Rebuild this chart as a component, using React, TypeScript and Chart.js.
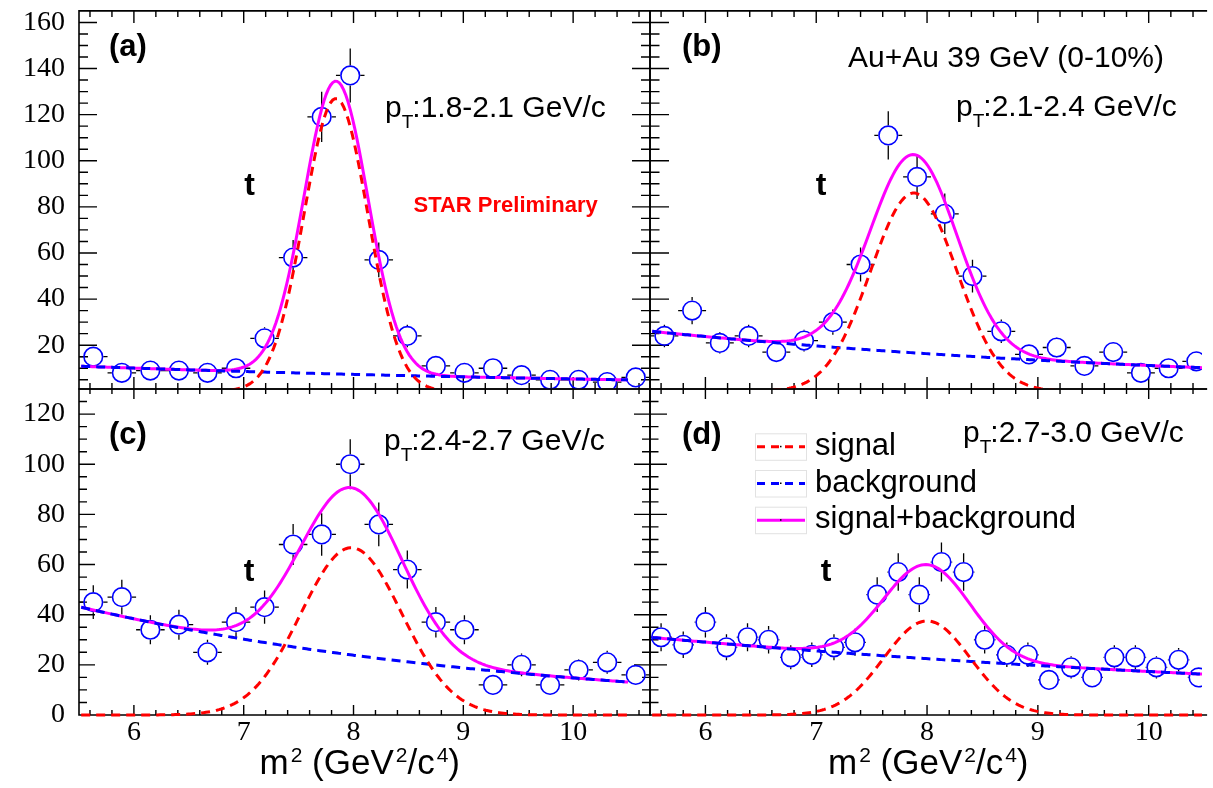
import React, { useEffect, useRef } from "react";
import { Chart, registerables } from "chart.js";

Chart.register(...registerables);

const PAGE_W = 1213;
const PAGE_H = 788;

// ---------------- data ----------------
// bin centres in m^2 (GeV^2/c^4), counts and statistical errors per panel
const m2BinsA = [5.63, 5.89, 6.15, 6.41, 6.67, 6.93, 7.19, 7.45, 7.71, 7.97, 8.23, 8.49, 8.75, 9.01, 9.27, 9.53, 9.79, 10.05, 10.31, 10.57];
const countsA = [15, 8, 9, 9, 8, 10, 23, 58, 119, 137, 57, 24, 11, 8, 10, 7, 5, 5, 4, 6];
const errorsA = [3.9, 2.8, 3.0, 3.0, 2.8, 3.2, 4.8, 7.6, 10.9, 11.7, 7.5, 4.9, 3.3, 2.8, 3.2, 2.6, 2.2, 2.2, 2.0, 2.4];

const m2BinsB = [5.63, 5.88, 6.13, 6.39, 6.64, 6.89, 7.15, 7.4, 7.65, 7.91, 8.16, 8.41, 8.67, 8.92, 9.17, 9.42, 9.68, 9.93, 10.18, 10.43];
const countsB = [24, 35, 21, 24, 17, 22, 30, 55, 111, 93, 77, 50, 26, 16, 19, 11, 17, 8, 10, 13];
const errorsB = [4.9, 5.9, 4.6, 4.9, 4.1, 4.7, 5.5, 7.4, 10.5, 9.6, 8.8, 7.1, 5.1, 4.0, 4.4, 3.3, 4.1, 2.8, 3.2, 3.6];

const m2BinsC = [5.63, 5.89, 6.15, 6.41, 6.67, 6.93, 7.19, 7.45, 7.71, 7.97, 8.23, 8.49, 8.75, 9.01, 9.27, 9.53, 9.79, 10.05, 10.31, 10.57];
const countsC = [45, 47, 34, 36, 25, 37, 43, 68, 72, 100, 76, 58, 37, 34, 12, 20, 12, 18, 21, 16];
const errorsC = [6.7, 6.9, 5.8, 6.0, 5.0, 6.1, 6.6, 8.2, 8.5, 10.0, 8.7, 7.6, 6.1, 5.8, 3.5, 4.5, 3.5, 4.2, 4.6, 4.0];

const m2BinsD = [5.6, 5.8, 6.0, 6.19, 6.38, 6.57, 6.77, 6.96, 7.16, 7.35, 7.55, 7.74, 7.93, 8.13, 8.33, 8.52, 8.72, 8.91, 9.1, 9.3, 9.49, 9.69, 9.88, 10.07, 10.27, 10.45];
const countsD = [31, 28, 37, 27, 31, 30, 23, 24, 27, 29, 48, 57, 48, 61, 57, 30, 24, 24, 14, 19, 15, 23, 23, 19, 22, 15];
const errorsD = [5.6, 5.3, 6.1, 5.2, 5.6, 5.5, 4.8, 4.9, 5.2, 5.4, 6.9, 7.5, 6.9, 7.8, 7.5, 5.5, 4.9, 4.9, 3.7, 4.4, 3.9, 4.8, 4.8, 4.4, 4.7, 3.9];

const halfBinWidths = [0.13, 0.126, 0.13, 0.097];

// fit parameters per panel (a, b, c, d): gaussian signal + exponential background
const signalAmp = [127, 86, 66.7, 37.5];
const signalMean = [7.84, 7.88, 7.98, 8.0];
const signalSigma = [0.29, 0.39, 0.46, 0.39];
const bgAt55 = [10.9, 26.1, 43.2, 31];
const bgSlope = [0.158, 0.188, 0.238, 0.129];
const fitRange = [5.52, 10.5];

// axes
const xTickLabels = [6, 7, 8, 9, 10];
const yTicksTop = [20, 40, 60, 80, 100, 120, 140, 160];
const yTicksBottom = [0, 20, 40, 60, 80, 100, 120];
const xRangeLeft = [5.5, 10.7];
const xRangeRight = [5.5, 10.482];
const yRangeTop = [1, 165];
const yRangeBottom = [0, 130];

// texts
const panelTags = ["(a)", "(b)", "(c)", "(d)"];
const ptRanges = ["1.8-2.1", "2.1-2.4", "2.4-2.7", "2.7-3.0"];
const particleLabel = "t";
const collisionLabel = "Au+Au 39 GeV (0-10%)";
const previewLabel = "STAR Preliminary";
const legendLabels = ["signal", "background", "signal+background"];

const SANS = '"Liberation Sans", Arial, Helvetica, sans-serif';
const SERIF = '"Liberation Serif", "Times New Roman", serif';

const RED = "#ff0000";
const BLUE = "#0000ff";
const MAGENTA = "#ff00ff";

const binsList = [m2BinsA, m2BinsB, m2BinsC, m2BinsD];
const countsList = [countsA, countsB, countsC, countsD];
const errorsList = [errorsA, errorsB, errorsC, errorsD];

// layout per panel (pixels)
const panels = [
  {
    padding: { left: 0, top: 10, right: PAGE_W - 650, bottom: PAGE_H - 389 },
    xr: xRangeLeft, yr: yRangeTop, yTicks: yTicksTop, showX: false, showY: true, drawRight: true,
    xTick: [12, 6], yTick: [18, 9], sigClipBottom: 0,
    tag: [109, 55.5], t: [249.5, 195], pt: [385, 116.5], star: [413.5, 211.7],
  },
  {
    padding: { left: 650, top: 10, right: 0, bottom: PAGE_H - 389 },
    xr: xRangeRight, yr: yRangeTop, yTicks: yTicksTop, showX: false, showY: false, drawRight: false,
    xTick: [12, 6], yTick: [19, 9.5], sigClipBottom: 0,
    tag: [682, 55.5], t: [821, 195], pt: [956, 115.5], coll: [848, 67],
  },
  {
    padding: { left: 0, top: 389, right: PAGE_W - 650, bottom: 0 },
    xr: xRangeLeft, yr: yRangeBottom, yTicks: yTicksBottom, showX: true, showY: true, drawRight: true,
    xTick: [10, 5], yTick: [16, 8], sigClipBottom: 3,
    tag: [109, 443.5], t: [249, 581], pt: [384, 449.5], title: [259.5, 773.5],
  },
  {
    padding: { left: 650, top: 389, right: 0, bottom: 0 },
    xr: xRangeRight, yr: yRangeBottom, yTicks: yTicksBottom, showX: true, showY: false, drawRight: false,
    xTick: [10, 5], yTick: [17, 8.5], sigClipBottom: 3,
    tag: [682, 443.5], t: [826, 581], pt: [963, 442], title: [828, 773.5], legend: [755, 433.3],
  },
];

function fitCurve(i: number, kind: "sig" | "bg" | "sum") {
  const pts: { x: number; y: number }[] = [];
  const n = 250;
  for (let k = 0; k <= n; k++) {
    const x = fitRange[0] + ((fitRange[1] - fitRange[0]) * k) / n;
    const d = (x - signalMean[i]) / signalSigma[i];
    const s = signalAmp[i] * Math.exp(-0.5 * d * d);
    const b = bgAt55[i] * Math.exp(-bgSlope[i] * (x - 5.5));
    pts.push({ x, y: kind === "sig" ? s : kind === "bg" ? b : s + b });
  }
  return pts;
}

function drawPtLabel(ctx: CanvasRenderingContext2D, x: number, y: number, range: string) {
  ctx.font = `30px ${SANS}`;
  ctx.fillText("p", x, y);
  const wp = ctx.measureText("p").width;
  ctx.font = `19px ${SANS}`;
  ctx.fillText("T", x + wp, y + 11);
  const wt = ctx.measureText("T").width;
  ctx.font = `30px ${SANS}`;
  ctx.fillText(":" + range + " GeV/c", x + wp + wt - 1, y);
}

function drawAxisTitle(ctx: CanvasRenderingContext2D, x: number, y: number) {
  const parts: [string, boolean][] = [
    ["m", false], ["2", true], [" (GeV", false], ["2", true], ["/c", false], ["4", true], [")", false],
  ];
  let cx = x;
  for (const [s, sup] of parts) {
    ctx.font = sup ? `21px ${SANS}` : `35px ${SANS}`;
    const dx = sup ? 2 : 0;
    ctx.fillText(s, cx + dx, sup ? y - 12 : y);
    cx += ctx.measureText(s).width + dx;
  }
}

function drawLegend(ctx: CanvasRenderingContext2D, x: number, y: number) {
  const rows = [
    { color: RED, dash: [8, 6] },
    { color: BLUE, dash: [8, 6] },
    { color: MAGENTA, dash: [] as number[] },
  ];
  rows.forEach((r, i) => {
    const top = y + i * 36.7;
    ctx.setLineDash([]);
    ctx.strokeStyle = "#e2e2e2";
    ctx.lineWidth = 1;
    ctx.strokeRect(x + 0.5, top + 0.5, 51, 26.5);
    ctx.strokeStyle = r.color;
    ctx.lineWidth = 3;
    ctx.setLineDash(r.dash);
    ctx.beginPath();
    ctx.moveTo(x + 2, top + 13.5);
    ctx.lineTo(x + 50, top + 13.5);
    ctx.stroke();
    ctx.setLineDash([]);
    ctx.fillStyle = "#000";
    ctx.fillRect(x + 25, top + 12.5, 1.5, 1.5);
    ctx.font = `31px ${SANS}`;
    ctx.textAlign = "left";
    ctx.fillText(legendLabels[i], x + 60, top + 21.7);
  });
}

function makeConfig(i: number): any {
  const p: any = panels[i];
  const bins = binsList[i];
  const counts = countsList[i];
  const errs = errorsList[i];
  const hb = halfBinWidths[i];

  const underlay = {
    id: "underlay" + i,
    beforeDatasetsDraw(chart: any) {
      const { ctx, chartArea: a } = chart;
      const xs = chart.scales.x;
      const ys = chart.scales.y;

      // error bars (statistical), clipped to the frame
      const R = 10;
      ctx.save();
      ctx.beginPath();
      ctx.rect(a.left, a.top, a.right - a.left, a.bottom - a.top);
      ctx.clip();
      ctx.strokeStyle = "#000";
      ctx.lineWidth = 1.3;
      ctx.setLineDash([]);
      ctx.beginPath();
      for (let k = 0; k < bins.length; k++) {
        const px = xs.getPixelForValue(bins[k]);
        const py = ys.getPixelForValue(counts[k]);
        const yTop = ys.getPixelForValue(counts[k] + errs[k]);
        const yBot = ys.getPixelForValue(counts[k] - errs[k]);
        const xL = xs.getPixelForValue(bins[k] - hb);
        const xR = xs.getPixelForValue(bins[k] + hb);
        if (py - yTop > R) { ctx.moveTo(px, py - R); ctx.lineTo(px, yTop); }
        if (yBot - py > R) { ctx.moveTo(px, py + R); ctx.lineTo(px, yBot); }
        if (px - xL > R) { ctx.moveTo(px - R, py); ctx.lineTo(xL, py); }
        if (xR - px > R) { ctx.moveTo(px + R, py); ctx.lineTo(xR, py); }
      }
      ctx.stroke();
      ctx.restore();

      // frame and inward ticks
      ctx.save();
      ctx.strokeStyle = "#000";
      ctx.lineWidth = 1.6;
      ctx.setLineDash([]);
      ctx.beginPath();
      if (p.drawRight) {
        ctx.rect(a.left, a.top, a.right - a.left, a.bottom - a.top);
      } else {
        ctx.moveTo(a.right + 5, a.top);
        ctx.lineTo(a.left, a.top);
        ctx.lineTo(a.left, a.bottom);
        ctx.lineTo(a.right + 5, a.bottom);
      }
      ctx.stroke();
      ctx.lineWidth = 1.4;
      ctx.beginPath();
      for (let k = 28; k <= 53; k++) {
        const v = k * 0.2;
        if (v <= p.xr[0] || v >= p.xr[1]) continue;
        const major = k % 5 === 0;
        const len = major ? p.xTick[0] : p.xTick[1];
        const px = xs.getPixelForValue(v);
        ctx.moveTo(px, a.bottom);
        ctx.lineTo(px, a.bottom - len);
        ctx.moveTo(px, a.top);
        ctx.lineTo(px, a.top + len);
      }
      for (let v = 0; v <= p.yr[1]; v += 5) {
        if (v <= p.yr[0] || v >= p.yr[1]) continue;
        const major = v % 20 === 0;
        const len = major ? p.yTick[0] : p.yTick[1];
        const py = ys.getPixelForValue(v);
        ctx.moveTo(a.left, py);
        ctx.lineTo(a.left + len, py);
        if (p.drawRight) {
          ctx.moveTo(a.right, py);
          ctx.lineTo(a.right - len, py);
        }
      }
      ctx.stroke();
      ctx.restore();
    },
  };

  const annotations = {
    id: "annotations" + i,
    afterDraw(chart: any) {
      const ctx: CanvasRenderingContext2D = chart.ctx;
      ctx.save();
      ctx.fillStyle = "#000";
      ctx.textBaseline = "alphabetic";
      ctx.textAlign = "left";
      ctx.font = `bold 31px ${SANS}`;
      ctx.fillText(panelTags[i], p.tag[0], p.tag[1]);
      ctx.textAlign = "center";
      ctx.font = `bold 32px ${SANS}`;
      ctx.fillText(particleLabel, p.t[0], p.t[1]);
      ctx.textAlign = "left";
      drawPtLabel(ctx, p.pt[0], p.pt[1], ptRanges[i]);
      if (p.coll) {
        ctx.font = `30px ${SANS}`;
        ctx.fillText(collisionLabel, p.coll[0], p.coll[1]);
      }
      if (p.star) {
        ctx.fillStyle = RED;
        ctx.font = `bold 22px ${SANS}`;
        ctx.fillText(previewLabel, p.star[0], p.star[1]);
        ctx.fillStyle = "#000";
      }
      if (p.title) {
        drawAxisTitle(ctx, p.title[0], p.title[1]);
      }
      if (p.legend) {
        drawLegend(ctx, p.legend[0], p.legend[1]);
      }
      ctx.restore();
    },
  };

  const points = bins.map((x, k) => ({ x, y: counts[k] }));

  return {
    type: "scatter",
    data: {
      datasets: [
        {
          label: legendLabels[0],
          data: fitCurve(i, "sig"),
          showLine: true,
          borderColor: RED,
          borderWidth: 3,
          borderDash: [9, 6],
          pointRadius: 0,
          fill: false,
          clip: { left: 0, top: 0, right: 0, bottom: p.sigClipBottom },
          order: 1,
        },
        {
          label: legendLabels[1],
          data: fitCurve(i, "bg"),
          showLine: true,
          borderColor: BLUE,
          borderWidth: 3,
          borderDash: [9, 6],
          pointRadius: 0,
          fill: false,
          clip: 0,
          order: 2,
        },
        {
          label: legendLabels[2],
          data: fitCurve(i, "sum"),
          showLine: true,
          borderColor: MAGENTA,
          borderWidth: 3,
          pointRadius: 0,
          fill: false,
          clip: 0,
          order: 3,
        },
        {
          label: "data",
          data: points,
          showLine: false,
          pointRadius: 9.3,
          pointStyle: "circle",
          borderColor: BLUE,
          backgroundColor: "rgba(0,0,0,0)",
          pointBorderWidth: 1.6,
          borderWidth: 1.6,
          clip: 0,
          order: 4,
        },
      ],
    },
    options: {
      responsive: false,
      devicePixelRatio: 1,
      animation: false,
      events: [],
      layout: { padding: p.padding },
      plugins: { legend: { display: false }, tooltip: { enabled: false } },
      scales: {
        x: {
          type: "linear",
          position: "bottom",
          min: p.xr[0],
          max: p.xr[1],
          display: p.showX,
          grid: { display: false, drawTicks: false },
          border: { display: false },
          ticks: {
            autoSkip: false,
            maxRotation: 0,
            padding: 1,
            color: "#000",
            font: { family: SERIF, size: 28, lineHeight: 1.2 },
            callback: (v: number) => String(v),
          },
          afterBuildTicks: (s: any) => {
            s.ticks = xTickLabels.map((v) => ({ value: v }));
          },
          afterFit: (s: any) => {
            s.height = p.showX ? 73 : 0;
            s.paddingLeft = 0;
            s.paddingRight = 0;
            s.paddingTop = 0;
            s.paddingBottom = 0;
          },
        },
        y: {
          type: "linear",
          position: "left",
          min: p.yr[0],
          max: p.yr[1],
          display: p.showY,
          grid: { display: false, drawTicks: false },
          border: { display: false },
          ticks: {
            autoSkip: false,
            padding: 14,
            color: "#000",
            font: { family: SERIF, size: 28, lineHeight: 1.2 },
            callback: (v: number) => String(v),
          },
          afterBuildTicks: (s: any) => {
            s.ticks = p.yTicks.map((v: number) => ({ value: v }));
          },
          afterFit: (s: any) => {
            s.width = p.showY ? 79 : 0;
            s.paddingLeft = 0;
            s.paddingRight = 0;
            s.paddingTop = 0;
            s.paddingBottom = 0;
          },
        },
      },
    },
    plugins: [underlay, annotations],
  };
}

export default function App() {
  const r0 = useRef<HTMLCanvasElement>(null);
  const r1 = useRef<HTMLCanvasElement>(null);
  const r2 = useRef<HTMLCanvasElement>(null);
  const r3 = useRef<HTMLCanvasElement>(null);
  const refs = [r0, r1, r2, r3];

  useEffect(() => {
    const charts = refs.map((r, i) => new Chart(r.current as HTMLCanvasElement, makeConfig(i)));
    return () => charts.forEach((c) => c.destroy());
  }, []);

  return (
    <div
      style={{
        position: "fixed",
        left: 0,
        top: 0,
        width: PAGE_W,
        height: PAGE_H,
        overflow: "hidden",
        background: "#ffffff",
      }}
    >
      {refs.map((r, i) => (
        <canvas
          key={i}
          ref={r}
          width={PAGE_W}
          height={PAGE_H}
          style={{ position: "absolute", left: 0, top: 0, width: PAGE_W, height: PAGE_H }}
        />
      ))}
    </div>
  );
}
